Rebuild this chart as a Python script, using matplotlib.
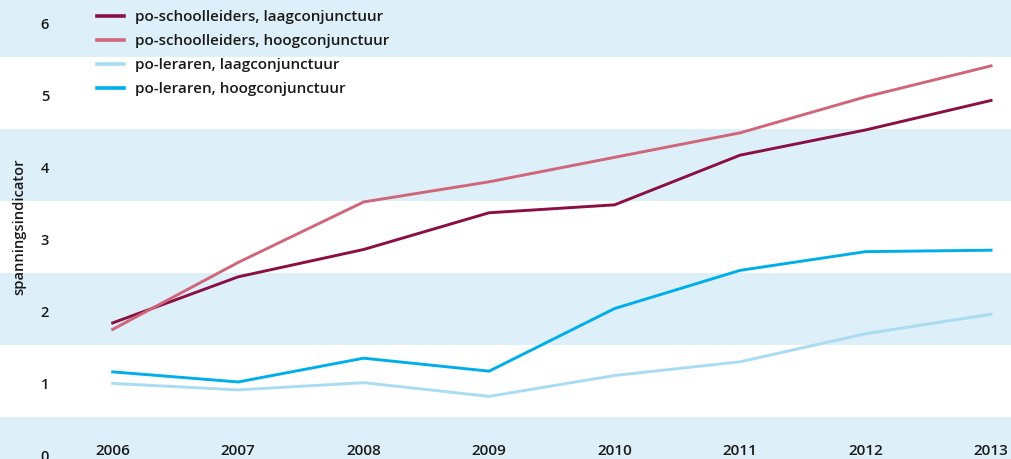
import matplotlib
matplotlib.use("Agg")
import matplotlib.pyplot as plt
import matplotlib.transforms as mtransforms

plt.rcParams['font.family'] = ['Open Sans', 'DejaVu Sans']

# data
jaren = [2006, 2007, 2008, 2009, 2010, 2011, 2012, 2013]
schoolleiders_laag = [1.80, 2.44, 2.82, 3.33, 3.44, 4.13, 4.48, 4.89]
schoolleiders_hoog = [1.71, 2.64, 3.48, 3.76, 4.10, 4.44, 4.94, 5.37]
leraren_laag = [0.96, 0.87, 0.97, 0.78, 1.07, 1.26, 1.65, 1.92]
leraren_hoog = [1.12, 0.98, 1.31, 1.13, 2.00, 2.53, 2.79, 2.81]
yticks = [0, 1, 2, 3, 4, 5, 6]

reeksen = [
    ("po-schoolleiders, laagconjunctuur", schoolleiders_laag, "#8a0f43"),
    ("po-schoolleiders, hoogconjunctuur", schoolleiders_hoog, "#cf6679"),
    ("po-leraren, laagconjunctuur", leraren_laag, "#a9dcf3"),
    ("po-leraren, hoogconjunctuur", leraren_hoog, "#00aee8"),
]

band = "#ddeff8"
tekst = "#1a1a1a"

fig = plt.figure(figsize=(10.11, 4.59), dpi=100)
ax = fig.add_axes([0, 0, 1, 1])

# alternerende banden rond de even waarden
for v in yticks:
    if v % 2 == 0:
        ax.axhspan(v - 0.5, v + 0.5, color=band, lw=0, zorder=0)

for naam, waarden, kleur in reeksen:
    ax.plot(jaren, waarden, color=kleur, lw=2.1, label=naam, zorder=3,
            solid_joinstyle="miter")

ax.set_xlim(2005.102, 2013.159)
ax.set_ylim(-0.09, 6.285)
ax.axis("off")

# y-labels binnen de grafiek, iets naar beneden geschoven
verschuif = mtransforms.ScaledTranslation(0, -0.04, fig.dpi_scale_trans)
for v in yticks:
    ax.text(0.0445, v, str(v), transform=ax.get_yaxis_transform() + verschuif,
            ha="center", va="center", fontsize=10.5, fontweight="semibold",
            color=tekst)

for j in jaren:
    ax.text(j, 0.0174, str(j), transform=ax.get_xaxis_transform(),
            ha="center", va="center", fontsize=11, fontweight="semibold",
            color=tekst)

ax.text(0.019, 0.507, "spanningsindicator", transform=ax.transAxes,
        rotation=90, ha="center", va="center", fontsize=10.6,
        fontweight="semibold", color=tekst)

leg = ax.legend(loc="upper left", bbox_to_anchor=(0.090, 0.991), frameon=False,
                fontsize=11, handlelength=1.75, handletextpad=0.72,
                labelspacing=0.66, borderaxespad=0)
for t in leg.get_texts():
    t.set_fontweight("semibold")
    t.set_color(tekst)
for l in leg.get_lines():
    l.set_linewidth(2.6)

fig.savefig("out.png", dpi=100)
